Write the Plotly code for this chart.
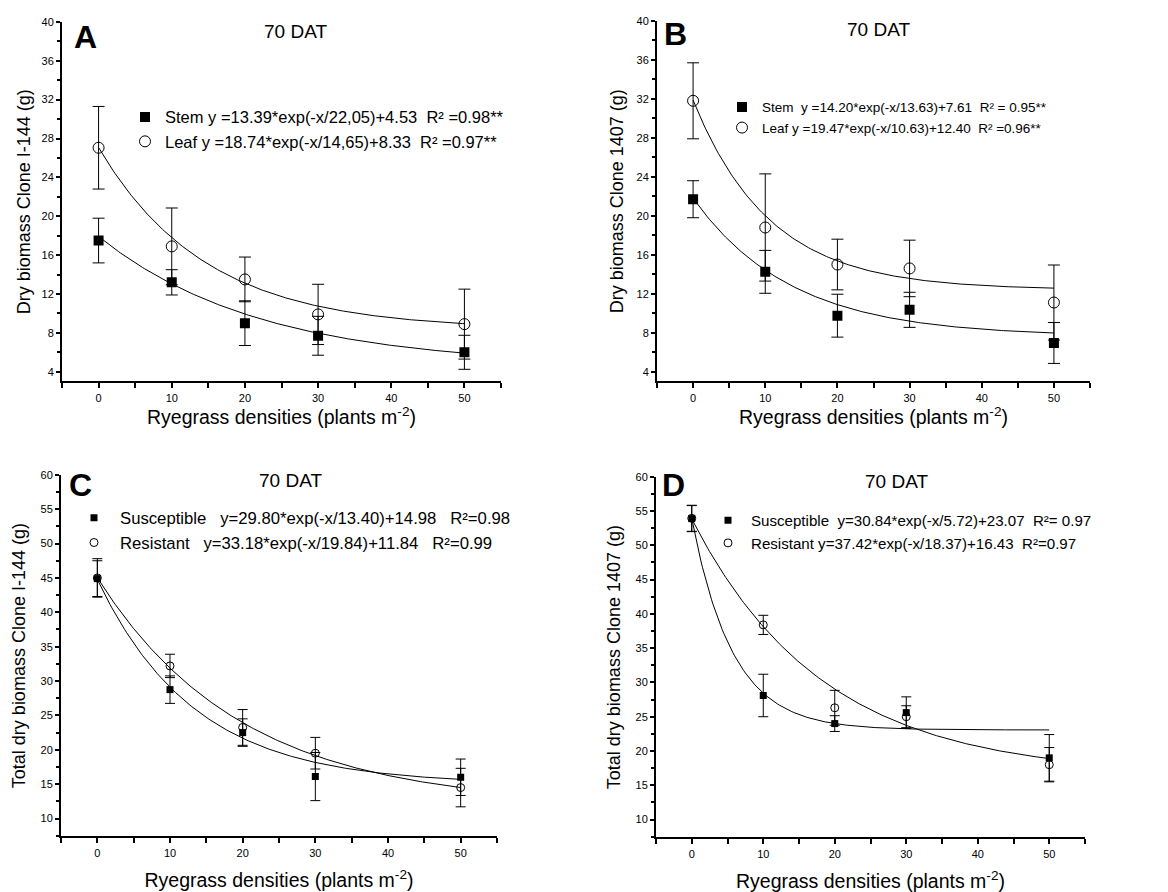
import numpy as np
import plotly.graph_objects as go

W, H = 1168, 892

# ---------------- data ----------------
dens = [0, 10, 20, 30, 50]

# Panel A (Clone I-144)
a_stem = [17.5, 13.2, 9.0, 7.7, 6.0]
a_stem_err = [2.3, 1.3, 2.3, 2.0, 1.75]
a_leaf = [27.05, 16.9, 13.5, 9.9, 8.9]
a_leaf_err = [4.25, 3.95, 2.3, 3.1, 3.6]
a_stem_fit = [13.39, 22.05, 4.53]
a_leaf_fit = [18.74, 14.65, 8.33]

# Panel B (Clone 1407)
b_stem = [21.7, 14.25, 9.75, 10.35, 6.95]
b_stem_err = [1.9, 2.2, 2.2, 1.8, 2.1]
b_leaf = [31.8, 18.8, 15.0, 14.6, 11.1]
b_leaf_err = [3.9, 5.5, 2.6, 2.9, 3.85]
b_stem_fit = [14.20, 13.63, 7.61]
b_leaf_fit = [19.47, 10.63, 12.40]

# Panel C (Total, Clone I-144)
c_sus = [44.9, 28.75, 22.5, 16.1, 16.0]
c_sus_err = [2.6, 2.0, 2.0, 3.5, 2.65]
c_res = [45.0, 32.2, 23.25, 19.5, 14.5]
c_res_err = [2.8, 1.7, 2.6, 2.3, 2.8]
c_sus_fit = [29.80, 13.40, 14.98]
c_res_fit = [33.18, 19.84, 11.84]

# Panel D (Total, Clone 1407)
d_sus = [53.9, 28.1, 24.0, 25.6, 19.0]
d_sus_err = [1.9, 3.1, 1.15, 2.3, 3.4]
d_res = [53.95, 38.4, 26.3, 25.0, 18.0]
d_res_err = [1.9, 1.4, 2.55, 1.6, 2.5]
d_sus_fit = [30.84, 5.72, 23.07]
d_res_fit = [37.42, 18.37, 16.43]

# labels
a_names = ["Stem y =13.39*exp(-x/22,05)+4.53  R² =0.98**",
           "Leaf y =18.74*exp(-x/14,65)+8.33  R² =0.97**"]
b_names = ["Stem  y =14.20*exp(-x/13.63)+7.61  R² = 0.95**",
           "Leaf y =19.47*exp(-x/10.63)+12.40  R² =0.96**"]
c_names = ["Susceptible   y=29.80*exp(-x/13.40)+14.98   R²=0.98",
           "Resistant   y=33.18*exp(-x/19.84)+11.84   R²=0.99"]
d_names = ["Susceptible  y=30.84*exp(-x/5.72)+23.07  R²= 0.97",
           "Resistant y=37.42*exp(-x/18.37)+16.43  R²=0.97"]
y_titles = ["Dry biomass Clone I-144 (g)", "Dry biomass Clone 1407 (g)",
            "Total dry biomass Clone I-144 (g)", "Total dry biomass Clone 1407 (g)"]
x_title = "Ryegrass densities (plants m<sup>-2</sup>)"
panel_letters = ["A", "B", "C", "D"]
subtitle = "70 DAT"

# ---------------- layout geometry (pixels) ----------------
FONT = "Liberation Sans, Arial, sans-serif"
NARROW = "Liberation Sans Narrow, Arial Narrow, Liberation Sans, sans-serif"

def px(x):
    return x / W

def py(y):
    return 1 - y / H

panels = [
    dict(xd=(62, 501), yd=(16, 378), yr=[3, 40], dt=4, mdt=2, xs=0, ys=6),
    dict(xd=(657, 1090), yd=(15, 378), yr=[3, 40], dt=4, mdt=2, xs=0, ys=8),
    dict(xd=(61, 497), yd=(472, 836), yr=[7.4, 60], dt=5, mdt=2.5, xs=16, ys=10),
    dict(xd=(656, 1085), yd=(474, 837), yr=[7.4, 60], dt=5, mdt=2.5, xs=16, ys=10),
]

fig = go.Figure()

def ne(s):
    return s.replace("  ", "\u00a0\u00a0").replace("\u00a0 ", "\u00a0\u00a0")

xfit = np.linspace(0, 50, 201)

def fitline(p):
    return p[0] * np.exp(-xfit / p[1]) + p[2]

series = [
    (a_stem, a_stem_err, a_leaf, a_leaf_err, a_stem_fit, a_leaf_fit, a_names, 10, 6),
    (b_stem, b_stem_err, b_leaf, b_leaf_err, b_stem_fit, b_leaf_fit, b_names, 10, 6),
    (c_sus, c_sus_err, c_res, c_res_err, c_sus_fit, c_res_fit, c_names, 7, 5),
    (d_sus, d_sus_err, d_res, d_res_err, d_sus_fit, d_res_fit, d_names, 7, 5),
]

for i, (s1, e1, s2, e2, f1, f2, names, msize, cap) in enumerate(series):
    k = "" if i == 0 else str(i + 1)
    xa, ya = "x" + k, "y" + k
    leg = "legend" + k
    for f in (f1, f2):
        fig.add_trace(go.Scatter(x=xfit, y=fitline(f), mode="lines",
                                 line=dict(color="black", width=1),
                                 xaxis=xa, yaxis=ya, showlegend=False,
                                 hoverinfo="skip"))
    fig.add_trace(go.Scatter(x=dens, y=s1, mode="markers", name=ne(names[0]),
                             marker=dict(symbol="square", size=msize, color="black"),
                             error_y=dict(type="data", array=e1, color="black",
                                          thickness=1, width=cap),
                             xaxis=xa, yaxis=ya, legend=leg))
    fig.add_trace(go.Scatter(x=dens, y=s2, mode="markers", name=ne(names[1]),
                             marker=dict(symbol="circle-open", size=msize + 1, color="black",
                                         line=dict(width=1, color="black")),
                             error_y=dict(type="data", array=e2, color="black",
                                          thickness=1, width=cap),
                             xaxis=xa, yaxis=ya, legend=leg))

layout = dict(width=W, height=H, margin=dict(l=0, r=0, t=0, b=0),
              paper_bgcolor="white", plot_bgcolor="white",
              font=dict(family=FONT, color="black"))

for i, p in enumerate(panels):
    k = "" if i == 0 else str(i + 1)
    layout["xaxis" + k] = dict(
        domain=[px(p["xd"][0]), px(p["xd"][1])], range=[-5, 55],
        anchor="y" + k, showline=True, linecolor="black", linewidth=2,
        showgrid=False, zeroline=False, ticks="outside", ticklen=5, tickwidth=1.5,
        tickcolor="black", tickvals=[0, 10, 20, 30, 40, 50],
        tickfont=dict(size=11, family=FONT),
        minor=dict(tickmode="linear", tick0=-5, dtick=5, ticks="outside",
                   ticklen=5, tickwidth=1.5, tickcolor="black", showgrid=False),
        title=dict(text=x_title, font=dict(size=19.5, family=FONT), standoff=p["xs"]),
    )
    layout["yaxis" + k] = dict(
        domain=[py(p["yd"][1]), py(p["yd"][0])], range=p["yr"],
        anchor="x" + k, showline=True, linecolor="black", linewidth=2,
        showgrid=False, zeroline=False, ticks="outside", ticklen=4, tickwidth=1.5,
        tickcolor="black", tick0=0, dtick=p["dt"],
        tickfont=dict(size=11, family=FONT),
        minor=dict(tickmode="linear", tick0=0, dtick=p["mdt"], ticks="outside",
                   ticklen=3, tickwidth=1.5, tickcolor="black", showgrid=False),
        title=dict(text=y_titles[i], font=dict(size=18, family=FONT), standoff=p["ys"]),
    )

# legends: (text start x, middle y, font size, family, item width)
leg_pos = [(165, 124, 16.5, NARROW, 30), (762, 112.5, 13.5, NARROW, 30),
           (120, 528, 16.7, FONT, 42), (751, 529.5, 15.1, FONT, 36)]
for i, (tx, my, fs, fam, iw) in enumerate(leg_pos):
    k = "" if i == 0 else str(i + 1)
    layout["legend" + k] = dict(x=px(tx - iw - 10), y=py(my), xanchor="left", yanchor="middle",
                                bgcolor="rgba(0,0,0,0)", font=dict(size=fs, family=fam),
                                itemwidth=iw, tracegroupgap=0)

# annotations: panel letters and 70 DAT
letter_pos = [(85, 31), (675, 28), (80, 482), (673, 482)]
dat_pos = [(295, 26), (878, 24), (290, 478), (896, 479)]
ann = []
for i in range(4):
    ann.append(dict(text="<b>%s</b>" % panel_letters[i], x=px(letter_pos[i][0]), y=py(letter_pos[i][1]),
                    xref="paper", yref="paper", showarrow=False, xanchor="center", yanchor="middle",
                    font=dict(size=32, family=FONT)))
    ann.append(dict(text=subtitle, x=px(dat_pos[i][0]), y=py(dat_pos[i][1]),
                    xref="paper", yref="paper", showarrow=False, xanchor="center", yanchor="middle",
                    font=dict(size=19, family=FONT)))
layout["annotations"] = ann

fig.update_layout(**layout)
fig.write_html("out.html", config={"displayModeBar": False},
               post_script="document.body.style.margin='0';document.body.style.overflow='hidden';")
